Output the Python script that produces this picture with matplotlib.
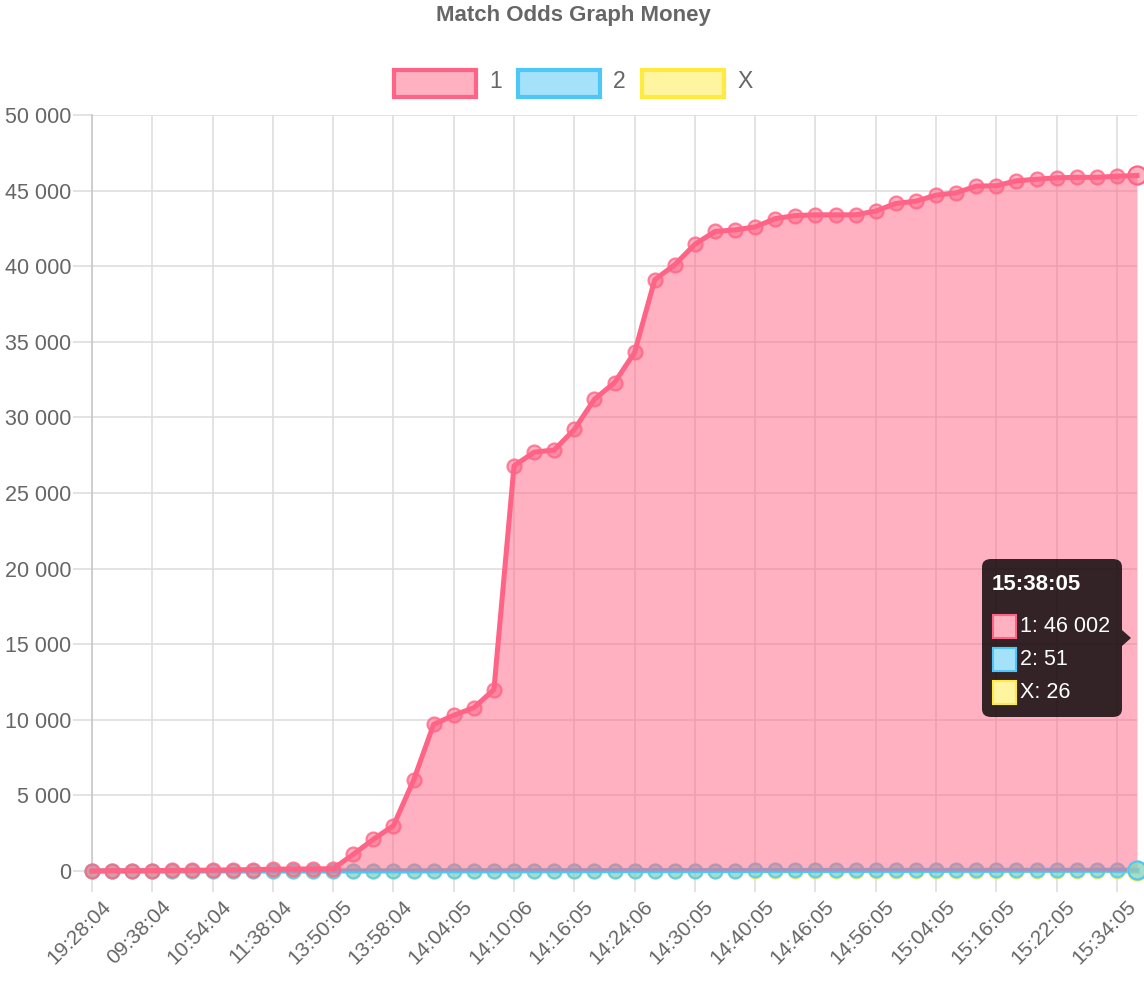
import numpy as np
import matplotlib.pyplot as plt
from matplotlib.patches import Rectangle, FancyBboxPatch, Polygon
from matplotlib.ticker import FuncFormatter
import matplotlib.transforms as mtransforms

# --- data ---
tick_labels = ['19:28:04', '09:38:04', '10:54:04', '11:38:04', '13:50:05', '13:58:04',
               '14:04:05', '14:10:06', '14:16:05', '14:24:06', '14:30:05', '14:40:05',
               '14:46:05', '14:56:05', '15:04:05', '15:16:05', '15:22:05', '15:34:05']
last_label = '15:38:05'

money_1 = [0, 20, 20, 30, 40, 50, 60, 80, 90, 120, 130, 140, 150,
           1100, 2100, 3000, 6000, 9700, 10300, 10800, 12000,
           26800, 27700, 27850, 29200, 31200, 32300, 34300, 39100, 40100,
           41450, 42300, 42400, 42600, 43150, 43350, 43400, 43400, 43400,
           43650, 44150, 44300, 44700, 44850, 45300, 45320, 45650, 45750,
           45850, 45880, 45880, 45950, 46002]
money_2 = [0, 0, 0, 0, 0, 1, 1, 2, 2, 3, 3, 4, 4,
           5, 6, 8, 10, 12, 14, 15, 17, 19, 20, 22, 23, 25, 26, 27, 29, 30,
           31, 32, 33, 34, 35, 36, 37, 38, 39, 40, 41, 42, 43, 44, 45, 46,
           47, 48, 48, 49, 50, 50, 51]
money_x = [0, 0, 0, 0, 0, 0, 1, 1, 1, 1, 2, 2, 2,
           3, 3, 4, 5, 6, 7, 8, 8, 9, 10, 11, 11, 12, 13, 13, 14, 15,
           15, 16, 16, 17, 17, 18, 18, 19, 19, 20, 20, 21, 21, 22, 22, 23,
           23, 24, 24, 25, 25, 26, 26]

W, H = 1144, 988
FONT = ['Liberation Sans', 'DejaVu Sans']
plt.rcParams['font.family'] = FONT
GREY = '#666666'

series = [  # drawn back to front, as chart.js does
    ('X', money_x, (1.0, 0.92, 0.25)),
    ('2', money_2, (0.30, 0.78, 0.97)),
    ('1', money_1, (1.0, 0.39, 0.52)),
]


def px(x, y):
    return x / W, 1 - y / H


fig = plt.figure(figsize=(W / 100, H / 100), dpi=100)
ax = fig.add_axes([92 / W, 1 - 871 / H, (1137 - 92) / W, (871 - 115) / H])

x = np.arange(len(money_1))
for k, (name, vals, edge) in enumerate(series):
    z = 2 + k
    ax.fill_between(x, 0, vals, color=edge, alpha=0.5, lw=0, zorder=z)
    ax.plot(x[:-1], vals[:-1], color=edge, lw=3.6, zorder=z + 0.5, clip_on=False,
            marker='o', ms=10, mfc=edge + (0.5,), mec=edge + (0.8,), mew=1.6)
    ax.plot(x[-2:], vals[-2:], color=edge, lw=3.6, zorder=z + 0.5, clip_on=False)
    ax.plot(x[-1], vals[-1], 'o', ms=13, mfc=edge + (0.5,), mec=edge, mew=1.6,
            zorder=6 + k, clip_on=False)

ax.set_xlim(0, len(money_1) - 1)
ax.set_ylim(0, 50000)
ax.set_yticks(np.arange(0, 50001, 5000))
ax.yaxis.set_major_formatter(FuncFormatter(lambda v, p: f'{int(v):,}'.replace(',', ' ')))
ax.set_xticks(x[::3])
ax.set_xticklabels(tick_labels, rotation=45, ha='right', rotation_mode='anchor')

ax.grid(True, color='#dedede', lw=1.2, zorder=1)
ax.set_axisbelow(True)
ax.tick_params(axis='y', length=14, width=1.2, color='#dedede', labelsize=15.5,
               labelcolor=GREY, pad=1)
ax.tick_params(axis='x', length=15, width=1.2, color='#dedede', labelsize=15,
               labelcolor=GREY, pad=2)
for side in ['top', 'right']:
    ax.spines[side].set_visible(False)
ax.spines['left'].set_color('#c8c8c8')
ax.spines['left'].set_linewidth(1.2)
ax.spines['bottom'].set_color('#dedede')

# title
fig.text(*px(573, 16), 'Match Odds Graph Money', ha='center', va='center',
         fontsize=16, fontweight='bold', color=GREY)

# legend
for (name, vals, edge), bx in zip(series[::-1], [394, 518, 642]):
    fig.add_artist(Rectangle(px(bx, 97), 82 / W, 27 / H, transform=fig.transFigure,
                             facecolor=edge + (0.5,), edgecolor=edge, lw=3))
    fig.text(*px(bx + 95, 82), name, ha='left', va='center', fontsize=16.5, color=GREY)

# tooltip at the last point
tip = FancyBboxPatch(px(982, 717), 140 / W, 158 / H, transform=fig.transFigure,
                     boxstyle='round,pad=0,rounding_size=0.008',
                     facecolor=(0, 0, 0, 0.8), edgecolor='none', zorder=10)
fig.add_artist(tip)
fig.add_artist(Polygon([px(1122, 630), px(1131, 638), px(1122, 646)],
                       closed=True, transform=fig.transFigure,
                       facecolor=(0, 0, 0, 0.8), edgecolor='none', zorder=10))
fig.text(*px(992, 585), last_label, ha='left', va='center', fontsize=16,
         fontweight='bold', color='white', zorder=11)
for i, (name, vals, edge) in enumerate(series[::-1]):
    yy = 626 + 33 * i
    fig.add_artist(Rectangle(px(993, yy + 12), 23 / W, 23 / H, transform=fig.transFigure,
                             facecolor='white', edgecolor='none', zorder=11))
    fig.add_artist(Rectangle(px(993, yy + 12), 23 / W, 23 / H, transform=fig.transFigure,
                             facecolor=edge + (0.5,), edgecolor=edge, lw=1.5, zorder=12))
    fig.text(*px(1020, yy), f'{name}: {vals[-1]:,}'.replace(',', ' '), ha='left',
             va='center', fontsize=15.5, color='white', zorder=12)

# nudge the rotated time labels to the right of their ticks
offset = mtransforms.ScaledTranslation(9 / 100, -2 / 100, fig.dpi_scale_trans)
for lab in ax.xaxis.get_majorticklabels():
    lab.set_transform(lab.get_transform() + offset)

fig.savefig('out.png', dpi=100)
